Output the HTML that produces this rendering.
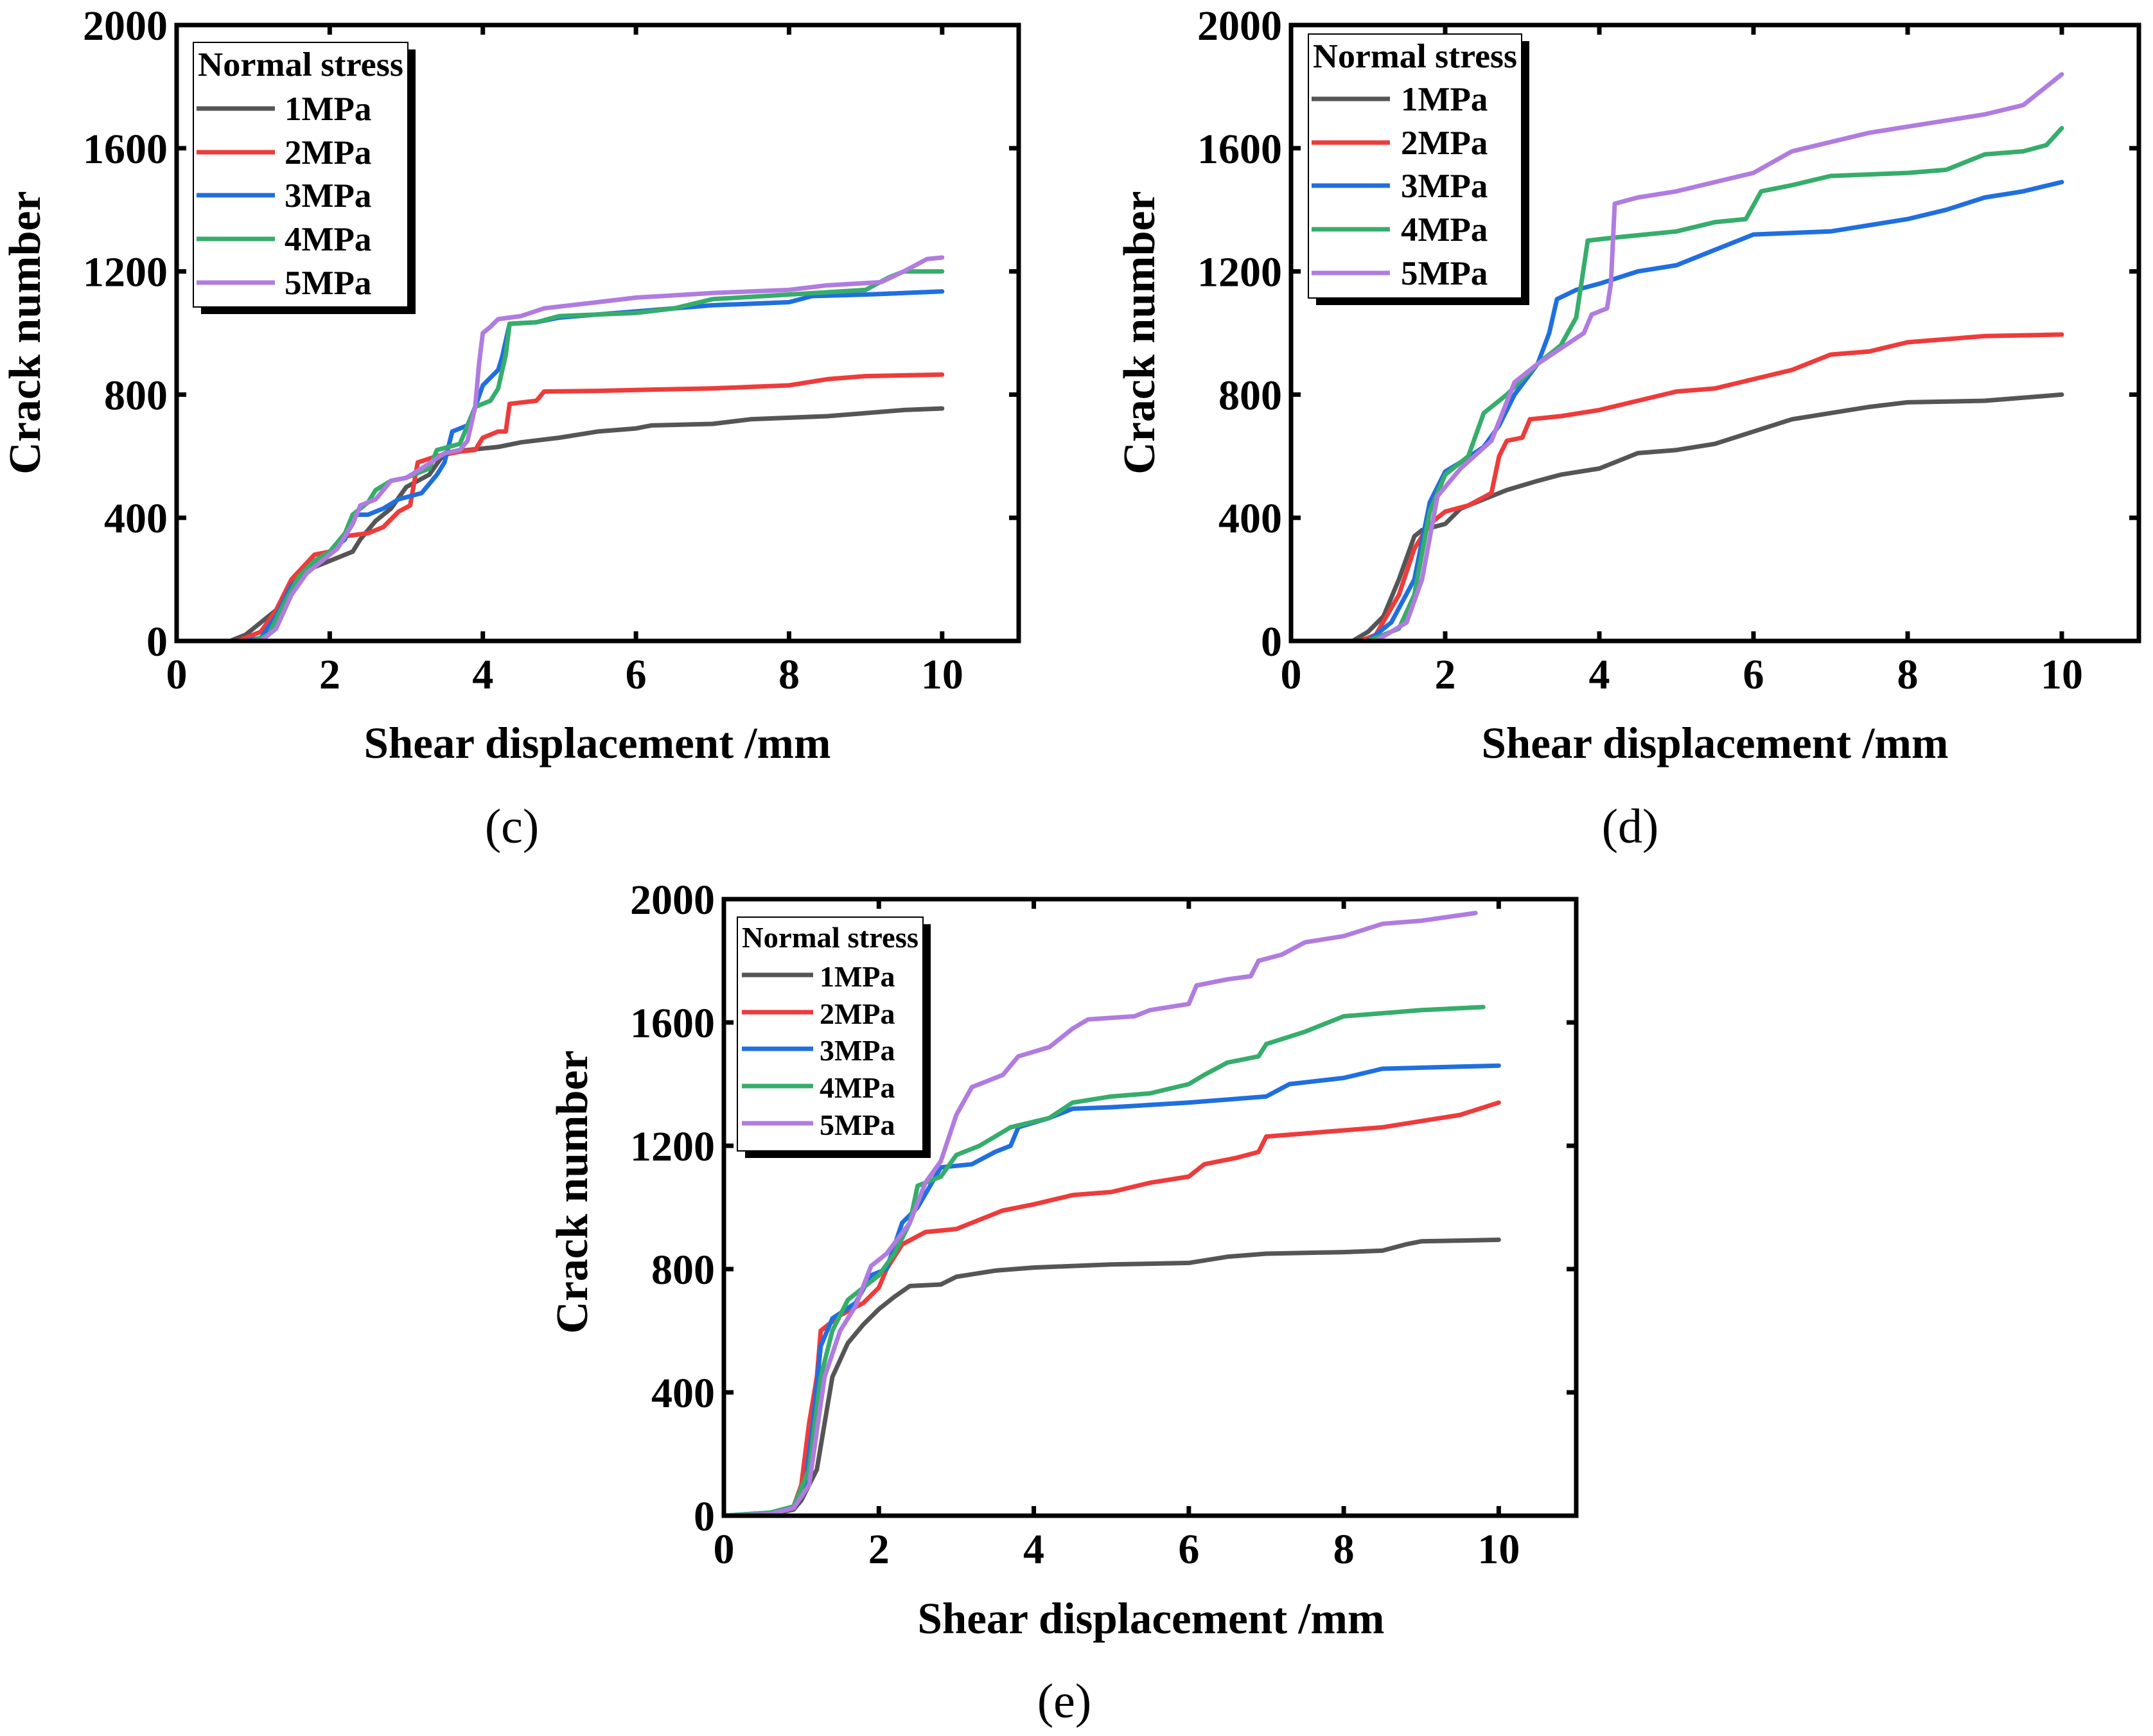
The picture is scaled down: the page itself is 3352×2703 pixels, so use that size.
<!DOCTYPE html>
<html><head><meta charset="utf-8">
<style>
html,body{margin:0;padding:0;background:#fff;}
svg{display:block;}
text{font-family:"Liberation Serif",serif;font-weight:bold;fill:#000;}
</style></head>
<body>
<svg id="fig" width="3352" height="2703" viewBox="0 0 3352 2703" xmlns="http://www.w3.org/2000/svg"></svg>
<script>
const seriesNames = ["1MPa","2MPa","3MPa","4MPa","5MPa"];
const seriesColors = ["#555555","#ee3b3b","#1f6fdf","#36ad6b","#b07ce0"];
const xTicks = [0,2,4,6,8,10];
const yTicks = [0,400,800,1200,1600,2000];

const c1 = [[0,0],[0.7,0],[0.9,20],[1.1,60],[1.3,100],[1.5,180],[1.7,230],[1.9,250],[2.1,270],[2.3,290],[2.4,330],[2.6,390],[2.8,430],[3.0,500],[3.3,540],[3.5,610],[3.8,620],[4.2,630],[4.5,645],[5,660],[5.5,680],[6,690],[6.2,700],[7,705],[7.5,720],[8,725],[8.5,730],[9,740],[9.5,750],[10,755]];
const c2 = [[0,0],[0.8,0],[1.1,30],[1.3,100],[1.5,200],[1.8,280],[2.0,290],[2.2,340],[2.5,350],[2.7,370],[2.9,420],[3.05,440],[3.15,580],[3.4,600],[3.7,615],[3.9,620],[4.0,660],[4.2,680],[4.3,680],[4.35,770],[4.7,780],[4.8,810],[5.5,812],[6,815],[7,820],[7.5,825],[8,830],[8.5,850],[9,860],[10,865]];
const c3 = [[0,0],[0.9,0],[1.1,10],[1.3,80],[1.5,180],[1.8,250],[2.0,290],[2.2,330],[2.3,410],[2.5,410],[2.7,430],[2.9,460],[3.2,480],[3.4,540],[3.5,580],[3.6,680],[3.8,700],[3.9,760],[4.0,830],[4.2,880],[4.25,920],[4.35,1030],[4.7,1035],[5,1050],[6,1070],[7,1090],[8,1100],[8.3,1120],[9,1125],[10,1135]];
const c4 = [[0,0],[1.0,0],[1.2,20],[1.4,120],[1.6,210],[1.8,260],[2.0,290],[2.2,350],[2.3,410],[2.5,450],[2.6,490],[2.8,520],[3.0,530],[3.3,560],[3.4,620],[3.7,640],[3.9,760],[4.1,780],[4.2,820],[4.3,930],[4.35,1030],[4.7,1035],[5,1055],[6,1065],[6.5,1080],[7,1110],[8,1125],[9,1140],[9.3,1180],[9.5,1200],[10,1200]];
const c5 = [[0,0],[1.1,0],[1.3,40],[1.5,150],[1.7,220],[1.9,260],[2.1,300],[2.3,380],[2.4,440],[2.6,460],[2.8,520],[3.0,530],[3.2,560],[3.5,610],[3.7,620],[3.8,650],[3.9,760],[3.95,900],[4.0,1000],[4.1,1020],[4.2,1045],[4.5,1055],[4.8,1080],[5.5,1100],[6,1115],[7,1130],[8,1140],[8.5,1155],[9.2,1165],[9.5,1200],[9.8,1240],[10,1245]];

const d1 = [[0,0],[0.8,0],[1.0,30],[1.2,80],[1.4,200],[1.6,340],[1.7,360],[2.0,380],[2.2,430],[2.5,460],[2.8,490],[3.2,520],[3.5,540],[4.0,560],[4.5,610],[5,620],[5.5,640],[6,680],[6.5,720],[7,740],[7.5,760],[8,775],[9,780],[10,800]];
const d2 = [[0,0],[0.9,0],[1.1,20],[1.4,150],[1.6,300],[1.8,380],[2.0,420],[2.3,440],[2.6,480],[2.7,600],[2.8,650],[3.0,660],[3.1,720],[3.5,730],[4,750],[4.5,780],[5,810],[5.5,820],[6,850],[6.5,880],[7,930],[7.5,940],[8,970],[9,990],[10,995]];
const d3 = [[0,0],[1.0,0],[1.3,60],[1.6,200],[1.8,450],[2.0,550],[2.2,580],[2.5,630],[2.7,700],[2.9,800],[3.2,900],[3.35,1000],[3.45,1110],[3.7,1140],[4,1160],[4.5,1200],[5,1220],[5.5,1270],[6,1320],[7,1330],[8,1370],[8.5,1400],[9,1440],[9.5,1460],[10,1490]];
const d4 = [[0,0],[1.0,0],[1.4,40],[1.6,150],[1.8,420],[2.0,540],[2.3,600],[2.5,740],[2.8,800],[3.2,900],[3.5,960],[3.7,1050],[3.85,1300],[4.2,1310],[5,1330],[5.5,1360],[5.9,1370],[6.1,1460],[6.5,1480],[7,1510],[8,1520],[8.5,1530],[9,1580],[9.5,1590],[9.8,1610],[10,1665]];
const d5 = [[0,0],[1.1,0],[1.5,60],[1.7,200],[1.9,470],[2.2,560],[2.6,650],[2.9,840],[3.2,900],[3.5,950],[3.8,1000],[3.9,1060],[4.1,1080],[4.15,1160],[4.2,1420],[4.5,1440],[5,1460],[5.5,1490],[6,1520],[6.5,1590],[7,1620],[7.5,1650],[8,1670],[9,1710],[9.5,1740],[10,1840]];

const e1 = [[0,0],[0.5,0],[0.9,20],[1.0,50],[1.2,150],[1.3,300],[1.4,450],[1.6,560],[1.8,620],[2.0,670],[2.2,710],[2.4,745],[2.8,750],[3.0,775],[3.5,795],[4,805],[5,815],[6,820],[6.5,840],[7,850],[8,855],[8.5,860],[8.8,880],[9,890],[10,895]];
const e2 = [[0,0],[0.5,0],[0.9,30],[1.0,100],[1.1,300],[1.2,450],[1.25,600],[1.5,650],[1.8,690],[2.0,740],[2.1,800],[2.3,880],[2.6,920],[3.0,930],[3.2,950],[3.6,990],[4,1010],[4.5,1040],[5,1050],[5.5,1080],[6,1100],[6.2,1140],[6.6,1160],[6.9,1180],[7,1230],[8,1250],[8.5,1260],[9,1280],[9.5,1300],[10,1340]];
const e3 = [[0,0],[0.6,10],[0.9,30],[1.05,100],[1.15,300],[1.25,550],[1.4,640],[1.7,690],[1.9,780],[2.1,800],[2.3,950],[2.5,1000],[2.8,1130],[3.2,1140],[3.5,1180],[3.7,1200],[3.8,1260],[4.2,1290],[4.5,1320],[5,1325],[6,1340],[7,1360],[7.3,1400],[8,1420],[8.5,1450],[10,1460]];
const e4 = [[0,0],[0.6,10],[0.9,30],[1.1,150],[1.25,450],[1.4,600],[1.6,700],[1.8,740],[2.0,780],[2.2,850],[2.4,950],[2.5,1070],[2.8,1100],[3,1170],[3.3,1200],[3.7,1260],[4.2,1290],[4.5,1340],[5,1360],[5.5,1370],[6,1400],[6.2,1430],[6.5,1470],[6.9,1490],[7,1530],[7.5,1570],[8,1620],[8.5,1630],[9,1640],[9.8,1650]];
const e5 = [[0,0],[0.6,5],[0.9,25],[1.1,100],[1.3,450],[1.5,600],[1.7,680],[1.9,810],[2.1,850],[2.4,950],[2.6,1080],[2.8,1150],[3.0,1300],[3.2,1390],[3.6,1430],[3.8,1490],[4.2,1520],[4.5,1580],[4.7,1610],[5.3,1620],[5.5,1640],[6,1660],[6.1,1720],[6.5,1740],[6.8,1750],[6.9,1800],[7.2,1820],[7.5,1860],[8,1880],[8.5,1920],[9,1930],[9.7,1955]];

const NS = "http://www.w3.org/2000/svg";
const svg = document.getElementById("fig");
function mk(tag, attrs, parent){
  const el = document.createElementNS(NS, tag);
  for (const k in attrs) el.setAttribute(k, attrs[k]);
  (parent||svg).appendChild(el);
  return el;
}

const panels = [
  {id:"c", L:275, R:1586, T:39, B:998, data:[c1,c2,c3,c4,c5], lab:[797,1312], xt:[930,1180], yt:[62,518], fs:66,
   leg:{x:301,y:66,w:334,h:412,titleY:118,rows:[169,237,304,372,440],lx1:306,lx2:428,tx:443,fs:53}},
  {id:"d", L:2010, R:3330, T:39, B:998, data:[d1,d2,d3,d4,d5], lab:[2538,1312], xt:[2670,1180], yt:[1797,518], fs:66,
   leg:{x:2037,y:53,w:332,h:411,titleY:105,rows:[154,222,289,357,425],lx1:2042,lx2:2164,tx:2181,fs:53}},
  {id:"e", L:1127, R:2454, T:1400, B:2360, data:[e1,e2,e3,e4,e5], lab:[1657,2674], xt:[1792,2543], yt:[914,1856], fs:66,
   leg:{x:1148,y:1428,w:289,h:364,titleY:1475,rows:[1518,1576,1633,1691,1749],lx1:1155,lx2:1266,tx:1276,fs:46}}
];

panels.forEach(p=>{
  const g = mk("g",{});
  
  
  const sx = v => p.L + (p.R-p.L)*v/11;
  const sy = v => p.B - (p.B-p.T)*v/2000;
  p.data.forEach((ser,i)=>{
    const pl = mk("polyline",{points:ser.map(q=>sx(q[0]).toFixed(1)+","+sy(q[1]).toFixed(1)).join(" "),fill:"none",stroke:seriesColors[i],"stroke-width":7,"stroke-linejoin":"round","stroke-linecap":"round"},g);
    
    
  });
  const fr = mk("rect",{x:p.L,y:p.T,width:p.R-p.L,height:p.B-p.T,fill:"none",stroke:"#000","stroke-width":7},g);
  
  
  xTicks.forEach(t=>{
    const x = sx(t);
    mk("line",{x1:x,x2:x,y1:p.B,y2:p.B-15,stroke:"#000","stroke-width":7},g);
    mk("line",{x1:x,x2:x,y1:p.T,y2:p.T+15,stroke:"#000","stroke-width":7},g);
    const tx = mk("text",{x:x,y:p.B+74,"text-anchor":"middle","font-size":p.fs},g);
    tx.textContent = t;
    
    
  });
  yTicks.forEach(t=>{
    const y = sy(t);
    mk("line",{x1:p.L,x2:p.L+15,y1:y,y2:y,stroke:"#000","stroke-width":7},g);
    mk("line",{x1:p.R,x2:p.R-15,y1:y,y2:y,stroke:"#000","stroke-width":7},g);
    const ty = mk("text",{x:p.L-14,y:y+23,"text-anchor":"end","font-size":p.fs},g);
    ty.textContent = t;
    
    
  });
  const xt = mk("text",{x:p.xt[0],y:p.xt[1],"text-anchor":"middle","font-size":69},g);
  xt.textContent = "Shear displacement /mm";
  
  
  const yt = mk("text",{x:0,y:0,"text-anchor":"middle","font-size":70,transform:`translate(${p.yt[0]},${p.yt[1]}) rotate(-90)`},g);
  yt.textContent = "Crack number";
  
  
  const lb = mk("text",{x:p.lab[0],y:p.lab[1],"text-anchor":"middle","font-size":76,style:"font-weight:normal"},g);
  lb.textContent = "("+p.id+")";
  
  
  const L = p.leg;
  const lg = mk("g",{},g);
  
  
  mk("rect",{x:L.x+12,y:L.y+11,width:L.w,height:L.h,fill:"#000"},lg);
  mk("rect",{x:L.x,y:L.y,width:L.w,height:L.h,fill:"#fff",stroke:"#000","stroke-width":2},lg);
  const lt = mk("text",{x:L.x+7,y:L.titleY,"font-size":L.fs,textLength:L.w-14,lengthAdjust:"spacingAndGlyphs"},lg);
  lt.textContent = "Normal stress";
  
  
  seriesNames.forEach((n,i)=>{
    const y = L.rows[i];
    mk("line",{x1:L.lx1,x2:L.lx2,y1:y,y2:y,stroke:seriesColors[i],"stroke-width":7},lg);
    const t = mk("text",{x:L.tx,y:y+18,"font-size":L.fs},lg);
    t.textContent = n;
    
    
  });
});
</script>
</body></html>
